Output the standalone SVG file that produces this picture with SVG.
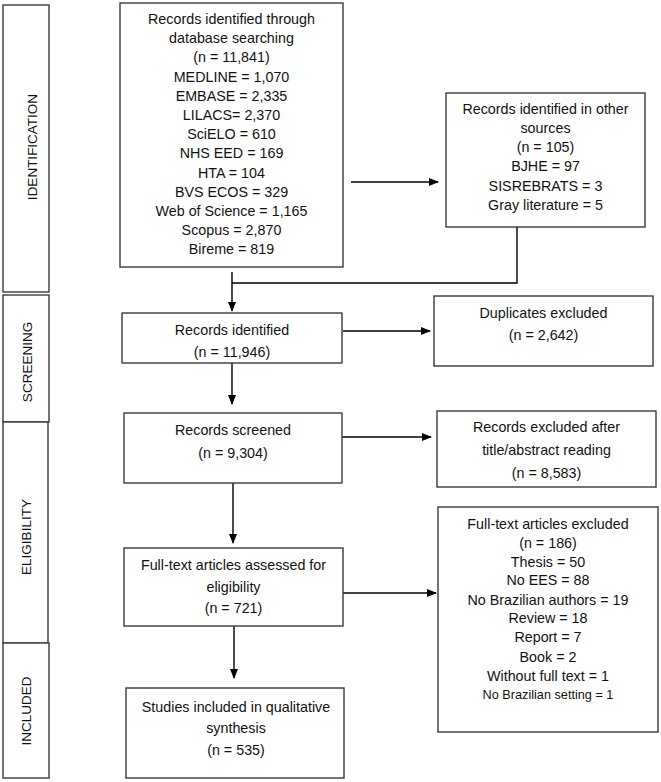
<svg xmlns="http://www.w3.org/2000/svg" width="661" height="782" viewBox="0 0 661 782">
<defs>
<marker id="ah" markerWidth="10" markerHeight="8" refX="9" refY="4" orient="auto" markerUnits="userSpaceOnUse">
<path d="M0,0 L10,4 L0,8 Z" fill="#000"/>
</marker>
<style>
.box{fill:#fff;stroke:#3a3a3a;stroke-width:1.4}
.t{font-family:"Liberation Sans",Arial,sans-serif;font-size:14.3px;fill:#111;text-anchor:middle}
.s{font-size:12.7px}
.lab{font-family:"Liberation Sans",Arial,sans-serif;font-size:13.5px;fill:#111;text-anchor:middle}
.c{fill:none;stroke:#000;stroke-width:1.4}
</style>
</defs>
<rect width="661" height="782" fill="#fff"/>
<g id="stages">
<g id="stage-identification"><rect class="box" x="3" y="5" width="46" height="287"/><text class="lab" transform="translate(37,147) rotate(-90)">IDENTIFICATION</text></g>
<g id="stage-screening"><rect class="box" x="3" y="295" width="46" height="127"/><text class="lab" transform="translate(32,362) rotate(-90)">SCREENING</text></g>
<g id="stage-eligibility"><rect class="box" x="3" y="422" width="45" height="221"/><text class="lab" transform="translate(31,537) rotate(-90)">ELIGIBILITY</text></g>
<g id="stage-included"><rect class="box" x="3" y="643" width="46" height="135"/><text class="lab" transform="translate(31,711) rotate(-90)">INCLUDED</text></g>
</g>
<g id="connectors">
<line class="c" x1="351" y1="182" x2="438" y2="182" marker-end="url(#ah)"/>
<polyline class="c" points="517,227 517,283 232,283"/>
<line class="c" x1="232" y1="272" x2="232" y2="311" marker-end="url(#ah)"/>
<line class="c" x1="343" y1="331" x2="430" y2="331" marker-end="url(#ah)"/>
<line class="c" x1="232" y1="363" x2="232" y2="404" marker-end="url(#ah)"/>
<line class="c" x1="342" y1="437" x2="431" y2="437" marker-end="url(#ah)"/>
<line class="c" x1="233" y1="483" x2="233" y2="543" marker-end="url(#ah)"/>
<line class="c" x1="343" y1="593" x2="436" y2="593" marker-end="url(#ah)"/>
<line class="c" x1="234" y1="626" x2="234" y2="678" marker-end="url(#ah)"/>
</g>
<g id="n-db">
<rect class="box" x="120" y="3" width="223" height="264"/>
<text class="t" x="231.5" y="24">Records identified through</text>
<text class="t" x="231.5" y="43.2">database searching</text>
<text class="t" x="231.5" y="62.4">(n = 11,841)</text>
<text class="t" x="231.5" y="81.6">MEDLINE = 1,070</text>
<text class="t" x="231.5" y="100.8">EMBASE = 2,335</text>
<text class="t" x="231.5" y="120">LILACS= 2,370</text>
<text class="t" x="231.5" y="139.2">SciELO = 610</text>
<text class="t" x="231.5" y="158.4">NHS EED = 169</text>
<text class="t" x="231.5" y="177.6">HTA = 104</text>
<text class="t" x="231.5" y="196.8">BVS ECOS = 329</text>
<text class="t" x="231.5" y="216">Web of Science = 1,165</text>
<text class="t" x="231.5" y="235.2">Scopus = 2,870</text>
<text class="t" x="231.5" y="254.4">Bireme = 819</text>
</g>
<g id="n-other">
<rect class="box" x="446" y="93" width="199" height="134"/>
<text class="t" x="545.5" y="114">Records identified in other</text>
<text class="t" x="545.5" y="133">sources</text>
<text class="t" x="545.5" y="152">(n = 105)</text>
<text class="t" x="545.5" y="171">BJHE = 97</text>
<text class="t" x="545.5" y="191">SISREBRATS = 3</text>
<text class="t" x="545.5" y="210">Gray literature = 5</text>
</g>
<g id="n-identified">
<rect class="box" x="122" y="313" width="220" height="50"/>
<text class="t" x="232" y="335">Records identified</text>
<text class="t" x="232" y="357">(n = 11,946)</text>
</g>
<g id="n-duplicates">
<rect class="box" x="434" y="296" width="219" height="70"/>
<text class="t" x="543.5" y="318">Duplicates excluded</text>
<text class="t" x="543.5" y="340">(n = 2,642)</text>
</g>
<g id="n-screened">
<rect class="box" x="124" y="413" width="218" height="70"/>
<text class="t" x="233" y="435">Records screened</text>
<text class="t" x="233" y="458">(n = 9,304)</text>
</g>
<g id="n-excluded-title">
<rect class="box" x="437" y="411" width="219" height="76"/>
<text class="t" x="546.5" y="432">Records excluded after</text>
<text class="t" x="546.5" y="455">title/abstract reading</text>
<text class="t" x="546.5" y="478">(n = 8,583)</text>
</g>
<g id="n-fulltext">
<rect class="box" x="124" y="548" width="219" height="78"/>
<text class="t" x="233.5" y="570">Full-text articles assessed for</text>
<text class="t" x="233.5" y="592">eligibility</text>
<text class="t" x="233.5" y="613">(n = 721)</text>
</g>
<g id="n-fulltext-excluded">
<rect class="box" x="438" y="507" width="220" height="225"/>
<text class="t" x="548" y="529">Full-text articles excluded</text>
<text class="t" x="548" y="548">(n = 186)</text>
<text class="t" x="548" y="567">Thesis = 50</text>
<text class="t" x="548" y="585">No EES = 88</text>
<text class="t" x="548" y="605">No Brazilian authors = 19</text>
<text class="t" x="548" y="623">Review = 18</text>
<text class="t" x="548" y="642">Report = 7</text>
<text class="t" x="548" y="662">Book = 2</text>
<text class="t" x="548" y="681">Without full text = 1</text>
<text class="t s" x="548" y="699">No Brazilian setting = 1</text>
</g>
<g id="n-included">
<rect class="box" x="126" y="688" width="218" height="90"/>
<text class="t" x="236" y="712">Studies included in qualitative</text>
<text class="t" x="236" y="733">synthesis</text>
<text class="t" x="236" y="755">(n = 535)</text>
</g>
</svg>
